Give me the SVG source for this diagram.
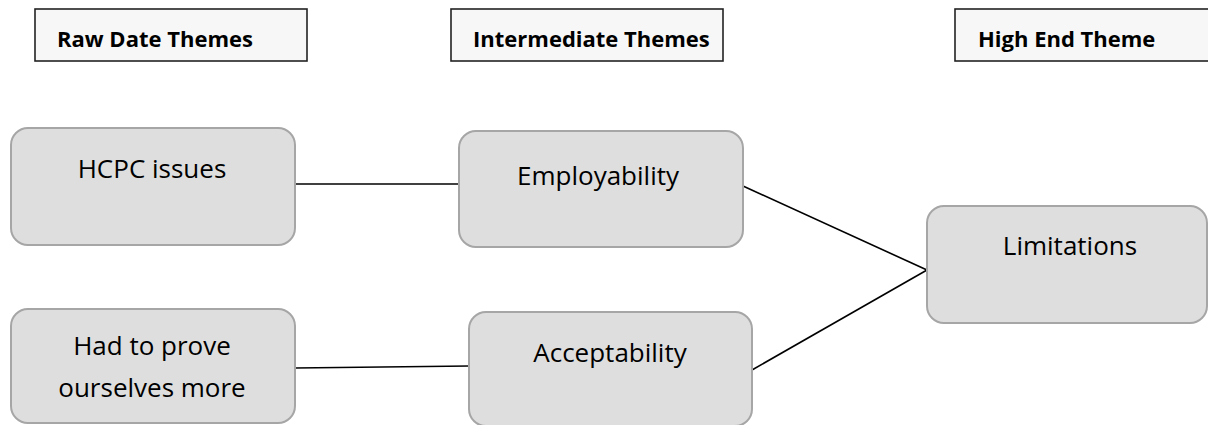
<svg xmlns="http://www.w3.org/2000/svg" width="1208" height="425" viewBox="0 0 1208 425">
<style>
.hdr rect{fill:#f7f7f7;stroke:#222;stroke-width:1.6}
.hdr text{font-family:"Open Sans","Liberation Sans",sans-serif;font-weight:bold;font-size:22px;fill:#000}
.node rect{fill:#dedede;stroke:#a6a6a6;stroke-width:2}
.node text{font-family:"Open Sans","Liberation Sans",sans-serif;font-size:26px;fill:#000;text-anchor:middle}
.conn line{stroke:#000;stroke-width:1.6}
</style>
<rect width="1208" height="425" fill="#fff"/>
<g id="hdr-raw" class="hdr"><rect x="35" y="9" width="272" height="52"/><text x="57" y="47">Raw Date Themes</text></g>
<g id="hdr-intermediate" class="hdr"><rect x="451" y="9" width="272" height="52"/><text x="473" y="47">Intermediate Themes</text></g>
<g id="hdr-high" class="hdr"><rect x="955" y="9" width="272" height="52"/><text x="978" y="47">High End Theme</text></g>
<g id="conns" class="conn">
<line x1="295" y1="184" x2="459" y2="184"/>
<line x1="295" y1="368" x2="469" y2="366"/>
<line x1="743" y1="186" x2="927" y2="270"/>
<line x1="752" y1="370" x2="927" y2="270"/>
</g>
<g id="n-hcpc" class="node"><rect x="11" y="128" width="284" height="117" rx="17"/><text x="152" y="178">HCPC issues</text></g>
<g id="n-prove" class="node"><rect x="11" y="309" width="284" height="114" rx="17"/><text x="152" y="355">Had to prove</text><text x="152" y="397">ourselves more</text></g>
<g id="n-employ" class="node"><rect x="459" y="131" width="284" height="116" rx="17"/><text x="598" y="185">Employability</text></g>
<g id="n-accept" class="node"><rect x="469" y="312" width="283" height="114" rx="17"/><text x="610" y="362">Acceptability</text></g>
<g id="n-limit" class="node"><rect x="927" y="206" width="280" height="117" rx="17"/><text x="1070" y="255">Limitations</text></g>
</svg>
